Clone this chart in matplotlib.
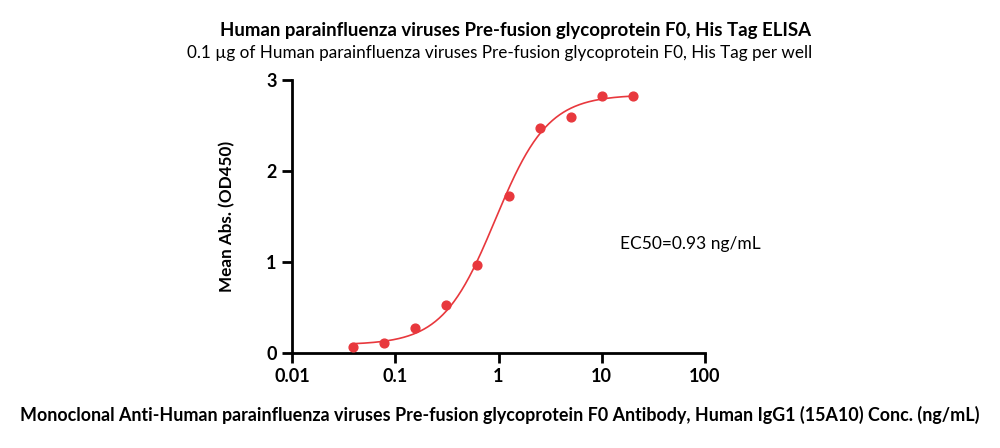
import numpy as np
import matplotlib
matplotlib.use("Agg")
from matplotlib import pyplot as plt

# measured points (ng/mL, OD450)
conc = [0.039, 0.078, 0.156, 0.3125, 0.625, 1.25, 2.5, 5, 10, 20]
od450 = [0.066, 0.115, 0.27, 0.53, 0.97, 1.73, 2.47, 2.60, 2.83, 2.83]

# 4PL fit parameters
bottom = 0.09
top = 2.84
ec50 = 0.93
hill = 1.7

xticks = [0.01, 0.1, 1, 10, 100]
xtick_labels = ["0.01", "0.1", "1", "10", "100"]
yticks = [0, 1, 2, 3]

red = "#E8383D"

plt.rcParams['font.family'] = ['Lato', 'DejaVu Sans']

fig = plt.figure(figsize=(10, 4.48), dpi=100)
ax = fig.add_axes([0.292, 0.212, 0.413, 0.609])

xs = np.logspace(np.log10(conc[0]), np.log10(conc[-1]), 300)
ys = bottom + (top - bottom) / (1 + (ec50 / xs) ** hill)
ax.plot(xs, ys, color=red, lw=1.2, zorder=2)
ax.scatter(conc, od450, s=40, color=red, zorder=3, clip_on=False)

ax.set_xscale("log")
ax.set_xlim(0.01, 100)
ax.set_ylim(0, 3)
ax.set_xticks(xticks)
ax.set_xticklabels(xtick_labels)
ax.set_yticks(yticks)
ax.minorticks_off()
ax.tick_params(axis="both", width=2, length=7, labelsize=13, pad=4)
for lab in ax.get_xticklabels() + ax.get_yticklabels():
    lab.set_fontweight("bold")

for s in ["top", "right"]:
    ax.spines[s].set_visible(False)
for s in ["left", "bottom"]:
    ax.spines[s].set_linewidth(2)

ax.set_ylabel("Mean Abs. (OD450)", fontsize=12.3, fontweight="bold", labelpad=22)
ax.text(0.795, 0.40, "EC50=0.93 ng/mL", transform=ax.transAxes, fontsize=12.5, va="center")

fig.text(0.515, 0.933, "Human parainfluenza viruses Pre-fusion glycoprotein F0, His Tag ELISA",
         ha="center", va="center", fontsize=13.4, fontweight="bold")
fig.text(0.4995, 0.882, "0.1 µg of Human parainfluenza viruses Pre-fusion glycoprotein F0, His Tag per well",
         ha="center", va="center", fontsize=12.3)
fig.text(0.5, 0.073, "Monoclonal Anti-Human parainfluenza viruses Pre-fusion glycoprotein F0 Antibody, Human IgG1 (15A10) Conc. (ng/mL)",
         ha="center", va="center", fontsize=12.9, fontweight="bold")

fig.savefig("out.png", dpi=100)
